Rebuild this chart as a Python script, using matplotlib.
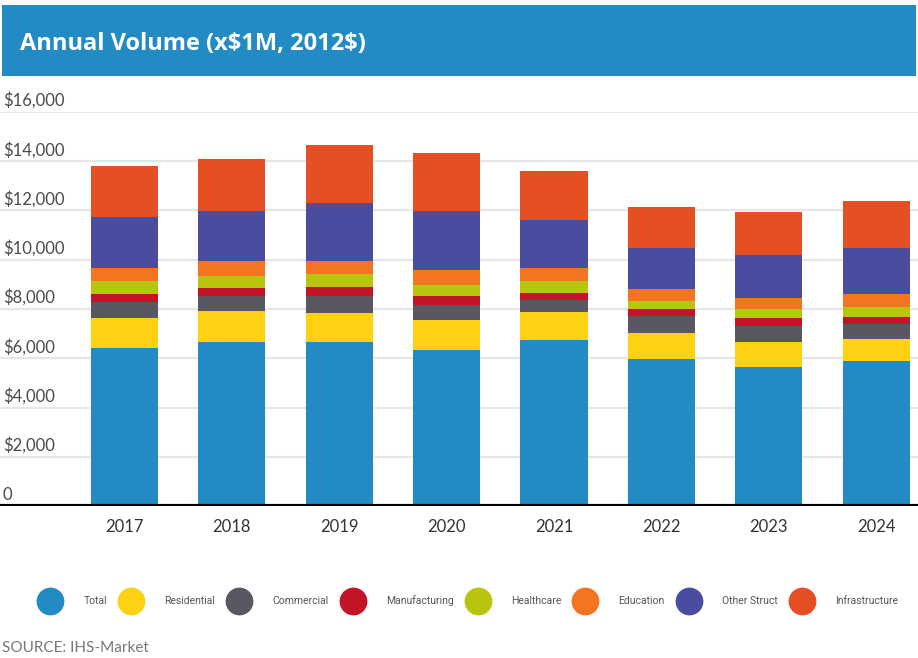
import numpy as np
import matplotlib
matplotlib.use("agg")
import matplotlib.pyplot as plt
from matplotlib.lines import Line2D
from matplotlib.patches import Rectangle

# values, $M (2012$), one segment per category
years = ["2017", "2018", "2019", "2020", "2021", "2022", "2023", "2024"]
total = [6410, 6650, 6650, 6330, 6730, 5960, 5640, 5880]
residential = [1220, 1260, 1180, 1220, 1140, 1060, 1010, 890]
commercial = [650, 610, 690, 600, 490, 690, 650, 610]
manufacturing = [320, 340, 360, 370, 280, 280, 330, 290]
healthcare = [530, 470, 530, 450, 490, 330, 360, 400]
education = [530, 610, 530, 600, 530, 480, 450, 530]
other_struct = [2060, 2030, 2350, 2400, 1940, 1670, 1740, 1870]
infrastructure = [2070, 2110, 2360, 2350, 1990, 1660, 1750, 1900]

names = ["Total", "Residential", "Commercial", "Manufacturing", "Healthcare",
         "Education", "Other Struct", "Infrastructure"]
series = [total, residential, commercial, manufacturing, healthcare,
          education, other_struct, infrastructure]
colors = ["#228BC4", "#FED213", "#585862", "#C41528", "#B8C40E",
          "#F37521", "#4A4D9F", "#E44F24"]
yticks = [0, 2000, 4000, 6000, 8000, 10000, 12000, 14000, 16000]

W, H = 918, 658
fig = plt.figure(figsize=(W/100, H/100), dpi=100)

# header band
fig.add_artist(Rectangle((2/W, 1-76/H), 914/W, 71/H, transform=fig.transFigure,
                         facecolor="#228BC4", edgecolor="none"))
fig.text(20/W, 1-44/H, r"Annual Volume (x\$1M, 2012\$)", color="white",
         fontsize=17, fontweight="bold", family="Open Sans", va="center")

ax = fig.add_axes([0, (H-506)/H, 1, (506-112)/H])
x = np.arange(len(years))
bottom = np.zeros(len(years))
for name, vals, c in zip(names, series, colors):
    ax.bar(x, vals, width=0.624, bottom=bottom, color=c, label=name, zorder=2)
    bottom += np.array(vals)

ax.set_ylim(0, 16000)
ax.set_xlim(-1.158, 7.389)
for s in ax.spines.values():
    s.set_visible(False)
ax.set_xticks([])
ax.set_yticks([])
for v in yticks:
    ax.axhline(v, color="#E6E6E6", lw=1.6, zorder=1)
    lab = "0" if v == 0 else r"\${:,}".format(v)
    ax.text(0.003, v + 120, lab, transform=ax.get_yaxis_transform(),
            color="#4a4a4a", fontsize=12, family="Lato", va="bottom", ha="left")
ax.axhline(0, color="black", lw=3, zorder=3)
for i, y in enumerate(years):
    ax.text(i, -850, y, ha="center", va="center", fontsize=12,
            family="Lato", color="#333333")

handles = [Line2D([], [], ls="none", marker="o", markersize=20,
                  markerfacecolor=c, markeredgecolor="none") for c in colors]
fig.legend(handles, names, loc="center", bbox_to_anchor=(0.5 + 12/W, 1-601/H),
           ncol=8, frameon=False, prop={"family": "Roboto", "size": 7.5},
           labelcolor="#555555", handlelength=1.2, handletextpad=2.6,
           columnspacing=1.7)

fig.text(2/W, 1-648/H, "SOURCE: IHS-Market", color="#777777", fontsize=11,
         family="Lato", va="center")

fig.savefig("out.png", dpi=100)
